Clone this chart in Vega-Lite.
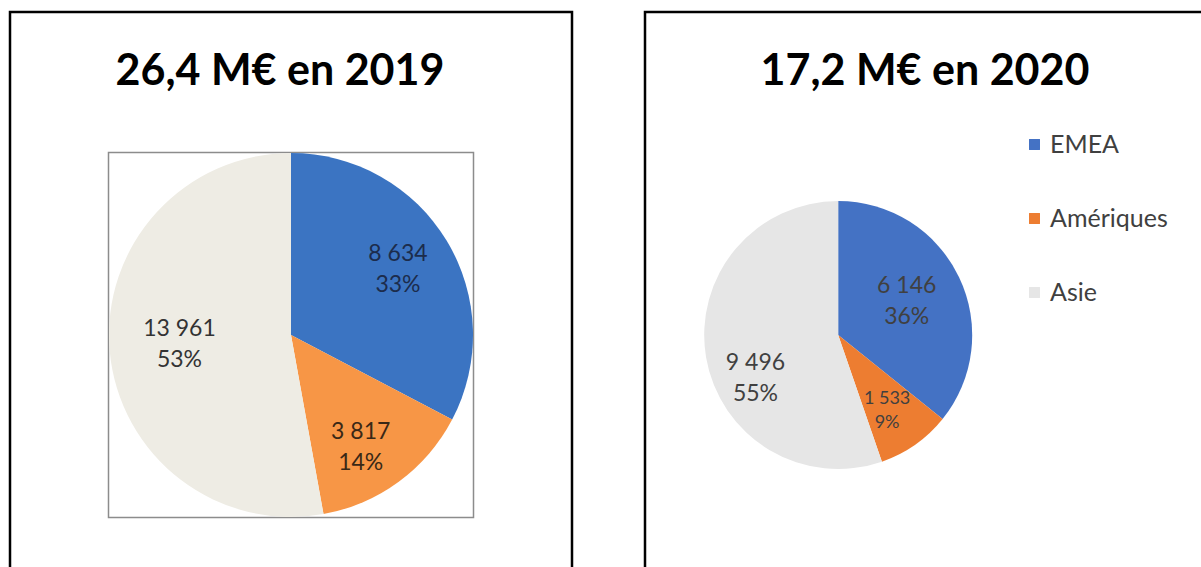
{
  "$schema": "https://vega.github.io/schema/vega-lite/v6.json",
  "padding": {"left": 8, "top": 10, "right": 0, "bottom": 0},
  "background": "white",
  "spacing": 69,
  "config": {
    "view": {"stroke": "black", "strokeWidth": 2.5},
    "locale": {"number": {"decimal": ",", "thousands": " ", "grouping": [3], "currency": ["", " €"]}},
    "font": "Lato"
  },
  "datasets": {
    "y2019": [
      {"idx": 1, "region": "EMEA", "value": 8634, "pct": 0.33},
      {"idx": 2, "region": "Amériques", "value": 3817, "pct": 0.14},
      {"idx": 3, "region": "Asie", "value": 13961, "pct": 0.53}
    ],
    "y2020": [
      {"idx": 1, "region": "EMEA", "value": 6146, "pct": 0.36},
      {"idx": 2, "region": "Amériques", "value": 1533, "pct": 0.09},
      {"idx": 3, "region": "Asie", "value": 9496, "pct": 0.55}
    ]
  },
  "resolve": {"scale": {"color": "independent"}, "legend": {"color": "independent"}},
  "hconcat": [
    {
      "name": "left",
      "width": 562,
      "height": 646,
      "view": {"stroke": "black", "strokeWidth": 2.5},
      "title": {"text": "26,4 M€ en 2019", "font": "Lato", "fontSize": 43, "fontWeight": "bold", "color": "black", "anchor": "middle", "offset": -82, "dx": -11},
      "data": {"name": "y2019"},
      "layer": [
        {
          "data": {"values": [{"box": "plot area"}]},
          "mark": {"type": "point", "shape": "square", "size": 133225, "filled": false, "stroke": "#8c8c8c", "strokeWidth": 1.5, "opacity": 1},
          "encoding": {}
        },
        {
          "mark": {"type": "arc", "outerRadius": 182},
          "encoding": {
            "theta": {"field": "value", "type": "quantitative", "stack": true},
            "order": {"field": "idx", "type": "quantitative"},
            "color": {"field": "region", "type": "nominal",
              "scale": {"domain": ["EMEA", "Amériques", "Asie"], "range": ["#3b74c2", "#f79646", "#eeece4"]}, "legend": null}
          }
        },
        {
          "mark": {"type": "text", "font": "Lato", "fontSize": 23,
            "dx": {"expr": "datum.region === 'Amériques' ? -9 : 0"},
            "dy": {"expr": "datum.region === 'Amériques' ? -10 : -16"},
            "radius": {"expr": "datum.region === 'EMEA' ? 125 : datum.region === 'Amériques' ? 133 : 112"}},
          "encoding": {
            "theta": {"field": "value", "type": "quantitative", "stack": true},
            "order": {"field": "idx", "type": "quantitative"},
            "text": {"field": "value", "type": "quantitative", "format": ",d"},
            "color": {"field": "region", "type": "nominal",
              "scale": {"domain": ["EMEA", "Amériques", "Asie"], "range": ["#1c2c4c", "#3a2816", "#333333"]}, "legend": null}
          }
        },
        {
          "mark": {"type": "text", "font": "Lato", "fontSize": 23,
            "dx": {"expr": "datum.region === 'Amériques' ? -9 : 0"},
            "dy": {"expr": "datum.region === 'Amériques' ? 21 : 15"},
            "radius": {"expr": "datum.region === 'EMEA' ? 125 : datum.region === 'Amériques' ? 133 : 112"}},
          "encoding": {
            "theta": {"field": "value", "type": "quantitative", "stack": true},
            "order": {"field": "idx", "type": "quantitative"},
            "text": {"field": "pct", "type": "quantitative", "format": ".0%"},
            "color": {"field": "region", "type": "nominal",
              "scale": {"domain": ["EMEA", "Amériques", "Asie"], "range": ["#1c2c4c", "#3a2816", "#333333"]}, "legend": null}
          }
        }
      ],
      "resolve": {"scale": {"color": "independent"}}
    },
    {
      "name": "right",
      "width": 560,
      "height": 646,
      "view": {"stroke": "black", "strokeWidth": 2.5},
      "title": {"text": "17,2 M€ en 2020", "font": "Lato", "fontSize": 43, "fontWeight": "bold", "color": "black", "anchor": "middle", "offset": -82},
      "data": {"name": "y2020"},
      "layer": [
        {
          "mark": {"type": "arc", "outerRadius": 134, "x": {"expr": "right_width * 0.345"}},
          "encoding": {
            "theta": {"field": "value", "type": "quantitative", "stack": true},
            "order": {"field": "idx", "type": "quantitative"},
            "color": {"field": "region", "type": "nominal", "sort": {"field": "idx"},
              "scale": {"domain": ["EMEA", "Amériques", "Asie"], "range": ["#4472c4", "#ed7d31", "#e6e6e6"]},
              "legend": {"title": null, "orient": "none", "legendX": 377, "legendY": 120, "symbolType": "square", "symbolSize": 120,
                "symbolStrokeWidth": 0, "labelFont": "Lato", "labelFontSize": 25, "labelColor": "#404040", "rowPadding": 48, "labelOffset": 3}}
          }
        },
        {
          "mark": {"type": "text", "font": "Lato", "color": "#404040", "x": {"expr": "right_width * 0.345"},
            "fontSize": {"expr": "datum.region === 'Amériques' ? 18 : 23"},
            "dx": {"expr": "datum.region === 'Asie' ? 10 : 0"},
            "dy": {"expr": "datum.region === 'Amériques' ? -6 : datum.region === 'Asie' ? 12 : -16"},
            "radius": {"expr": "datum.region === 'EMEA' ? 76 : datum.region === 'Amériques' ? 85 : 94"}},
          "encoding": {
            "theta": {"field": "value", "type": "quantitative", "stack": true},
            "order": {"field": "idx", "type": "quantitative"},
            "text": {"field": "value", "type": "quantitative", "format": ",d"}
          }
        },
        {
          "mark": {"type": "text", "font": "Lato", "color": "#404040", "x": {"expr": "right_width * 0.345"},
            "fontSize": {"expr": "datum.region === 'Amériques' ? 18 : 23"},
            "dx": {"expr": "datum.region === 'Asie' ? 10 : 0"},
            "dy": {"expr": "datum.region === 'Amériques' ? 18 : datum.region === 'Asie' ? 43 : 15"},
            "radius": {"expr": "datum.region === 'EMEA' ? 76 : datum.region === 'Amériques' ? 85 : 94"}},
          "encoding": {
            "theta": {"field": "value", "type": "quantitative", "stack": true},
            "order": {"field": "idx", "type": "quantitative"},
            "text": {"field": "pct", "type": "quantitative", "format": ".0%"}
          }
        }
      ]
    }
  ]
}
